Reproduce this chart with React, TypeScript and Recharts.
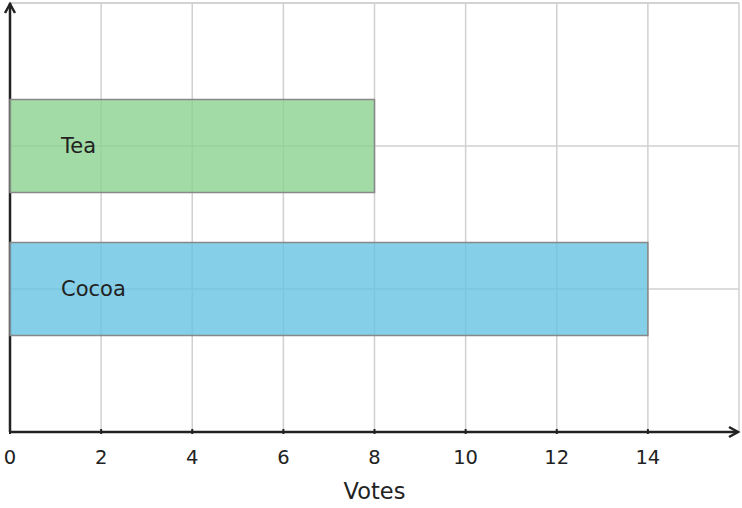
import { BarChart, Bar, XAxis, YAxis, CartesianGrid, LabelList, Customized } from "recharts";

const drinks = ["Tea", "Cocoa"];
const votes = [8, 14];
const fills = ["#8bd290", "#68c3e2"];
const voteTicks = [0, 2, 4, 6, 8, 10, 12, 14, 16];

const data = drinks.map((name, i) => ({ name, votes: votes[i], fill: fills[i] }));

const W = 742;
const H = 508;
const M = { top: 3, right: 3, left: 10, bottom: 0 };
const AXIS_H = 76;
const FONT = "DejaVu Sans, sans-serif";
const INK = "#222";

const VoteTick = (props: any) => {
    const { x, y, payload } = props;
    if (payload.value === 16) return <g />;
    return (
        <g>
            <line x1={x} y1={y} x2={x} y2={y - 5} stroke={INK} strokeWidth={2} />
            <text x={x} y={y + 30} textAnchor="middle" fontSize={19.5} fontFamily={FONT} fill={INK}>
                {payload.value}
            </text>
        </g>
    );
};

const DrinkTick = (props: any) => {
    const { x, y } = props;
    return <line x1={x} y1={y} x2={x + 4} y2={y} stroke="#888" strokeWidth={2} />;
};

// arrow heads at the ends of both axes
const Arrows = () => {
    const x0 = M.left;
    const y0 = H - M.bottom - AXIS_H;
    const x1 = W - M.right;
    const y1 = M.top;
    return (
        <g stroke={INK} strokeWidth={2.5} fill="none">
            <line x1={x0} y1={y1} x2={x1} y2={y1} stroke="#d0d0d0" strokeWidth={1.5} />
            <line x1={x0} y1={y0} x2={x0} y2={y1} />
            <line x1={x0} y1={y0} x2={x1 - 1} y2={y0} />
            <polyline points={`${x0 - 5},${y1 + 10} ${x0},${y1 + 1} ${x0 + 5},${y1 + 10}`} />
            <polyline points={`${x1 - 10},${y0 - 5} ${x1 - 1},${y0} ${x1 - 10},${y0 + 5}`} />
        </g>
    );
};

export default function App() {
    return (
        <div style={{ position: "absolute", left: 0, top: 0, background: "#fff" }}>
            <BarChart width={W} height={H} data={data} layout="vertical" margin={M}>
                <CartesianGrid stroke="#d0d0d0" strokeWidth={1.5} />
                <XAxis
                    type="number"
                    dataKey="votes"
                    domain={[0, 16]}
                    ticks={voteTicks}
                    interval={0}
                    height={AXIS_H}
                    axisLine={false}
                    tickLine={false}
                    tickSize={0}
                    tick={<VoteTick />}
                    label={{
                        value: "Votes",
                        position: "insideBottom",
                        offset: 9,
                        fontSize: 22.5,
                        fontFamily: FONT,
                        fill: INK,
                    }}
                />
                <YAxis
                    type="category"
                    dataKey="name"
                    width={0}
                    padding={{ top: 71.5, bottom: 71.5 }}
                    axisLine={false}
                    tickLine={false}
                    tickSize={0}
                    tick={<DrinkTick />}
                />
                <Bar
                    dataKey="votes"
                    barSize={93}
                    fillOpacity={0.8}
                    stroke="#888"
                    strokeWidth={1.5}
                    isAnimationActive={false}
                >
                    <LabelList
                        dataKey="name"
                        position="insideLeft"
                        offset={51}
                        fontSize={21}
                        fontFamily={FONT}
                        fill={INK}
                    />
                </Bar>
                <Customized component={<Arrows />} />
            </BarChart>
        </div>
    );
}
